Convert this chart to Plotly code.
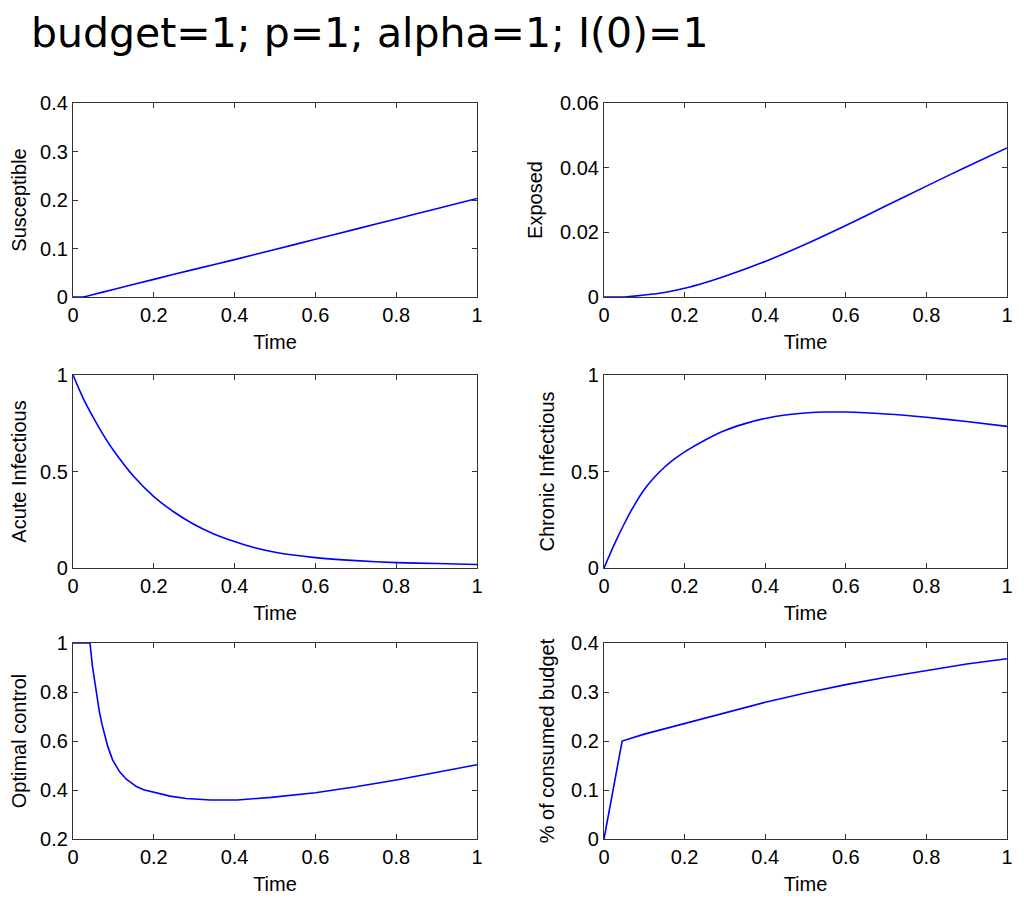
import plotly.graph_objects as go

# values (time on x for every panel)
t_sus = [0, 0.025, 0.05, 0.1, 0.2, 0.3, 0.4, 0.5, 0.6, 0.7, 0.8, 0.9, 1.0]
susceptible = [0, 0, 0.005, 0.0155, 0.0364, 0.057, 0.077, 0.098, 0.119, 0.140, 0.161, 0.182, 0.203]

t_exp = [0, 0.05, 0.1, 0.15, 0.2, 0.25, 0.3, 0.4, 0.5, 0.6, 0.7, 0.8, 0.9, 1.0]
exposed = [0, 0, 0.0006, 0.0014, 0.0027, 0.0044, 0.0064, 0.011, 0.0163, 0.0221, 0.0282, 0.0343, 0.0403, 0.0461]

t_acute = [0, 0.025, 0.05, 0.075, 0.1, 0.15, 0.2, 0.25, 0.3, 0.35, 0.4, 0.45, 0.5, 0.6, 0.7, 0.8, 0.9, 1.0]
acute = [1.0, 0.88, 0.78, 0.69, 0.61, 0.475, 0.37, 0.29, 0.225, 0.175, 0.137, 0.105, 0.082, 0.054, 0.038, 0.028, 0.023, 0.018]

t_chronic = [0, 0.025, 0.05, 0.075, 0.1, 0.125, 0.15, 0.175, 0.2, 0.25, 0.3, 0.35, 0.4, 0.45,
             0.5, 0.55, 0.6, 0.7, 0.8, 0.9, 1.0]
chronic = [0, 0.12, 0.228, 0.325, 0.407, 0.47, 0.522, 0.565, 0.602, 0.662, 0.712, 0.748, 0.775, 0.793,
           0.803, 0.808, 0.808, 0.798, 0.781, 0.759, 0.734]

t_ctrl = [0, 0.042, 0.048, 0.057, 0.065, 0.073, 0.086, 0.098, 0.115, 0.132, 0.145, 0.157, 0.175,
          0.2, 0.22, 0.24, 0.28, 0.34, 0.407, 0.49, 0.6, 0.7, 0.8, 0.9, 1.0]
control = [1, 1, 0.907, 0.797, 0.722, 0.66, 0.578, 0.523, 0.475, 0.444, 0.427, 0.414, 0.401,
           0.39, 0.382, 0.375, 0.365, 0.359, 0.359, 0.37, 0.389, 0.413, 0.441, 0.472, 0.503]

t_budget = [0, 0.045, 0.1, 0.2, 0.3, 0.4, 0.5, 0.6, 0.7, 0.8, 0.9, 1.0]
budget = [0, 0.2, 0.214, 0.236, 0.258, 0.279, 0.298, 0.315, 0.330, 0.344, 0.357, 0.368]

panels = [
    ("Susceptible", t_sus, susceptible, [0, 0.4], 0.1, "spline"),
    ("Exposed", t_exp, exposed, [0, 0.06], 0.02, "spline"),
    ("Acute Infectious", t_acute, acute, [0, 1], 0.5, "spline"),
    ("Chronic Infectious", t_chronic, chronic, [0, 1], 0.5, "spline"),
    ("Optimal control", t_ctrl, control, [0.2, 1], 0.2, "linear"),
    ("% of consumed budget", t_budget, budget, [0, 0.4], 0.1, "linear"),
]

# the page body adds an 8px margin, so the figure is drawn 8px smaller and offset
PAD = 8
W, H = 1024 - PAD, 900 - PAD
col_px = [(73, 477), (604, 1007)]
row_px = [(103, 297), (375, 568), (643, 839)]

font = dict(family="Liberation Sans, Arial, sans-serif", size=20, color="black")

fig = go.Figure()
layout = {}
for i, (label, tx, ty, yrange, dy, shape) in enumerate(panels):
    r, c = divmod(i, 2)
    n = "" if i == 0 else str(i + 1)
    fig.add_trace(go.Scatter(
        x=tx, y=ty, mode="lines",
        line=dict(color="#0000ff", width=1.6, shape=shape, smoothing=0.6),
        xaxis="x" + n, yaxis="y" + n, showlegend=False,
    ))
    axis_style = dict(
        showline=True, linecolor="#333", linewidth=1.2, mirror="ticks",
        ticks="inside", ticklen=5, tickcolor="#333", showgrid=False,
        zeroline=False, tickfont=font, automargin=False,
    )
    x0, x1 = col_px[c]
    y0, y1 = row_px[r]
    layout["xaxis" + n] = dict(
        axis_style, domain=[(x0 - PAD) / W, (x1 - PAD) / W], range=[0, 1], dtick=0.2,
        anchor="y" + n, title=dict(text="Time", font=font, standoff=9),
    )
    layout["yaxis" + n] = dict(
        axis_style, domain=[1 - (y1 - PAD) / H, 1 - (y0 - PAD) / H], range=yrange, dtick=dy,
        anchor="x" + n, title=dict(text=label, font=font, standoff=11),
    )

fig.update_layout(
    **layout,
    width=W, height=H,
    margin=dict(l=0, r=0, t=0, b=0),
    paper_bgcolor="white", plot_bgcolor="white",
    annotations=[dict(
        text="budget=1; p=1; alpha=1; I(0)=1",
        xref="paper", yref="paper", x=(30 - PAD) / W, y=1,
        xanchor="left", yanchor="top", showarrow=False, borderpad=0,
        font=dict(family="DejaVu Sans, sans-serif", size=41, color="black"),
    )],
)

fig.write_html("out.html")
